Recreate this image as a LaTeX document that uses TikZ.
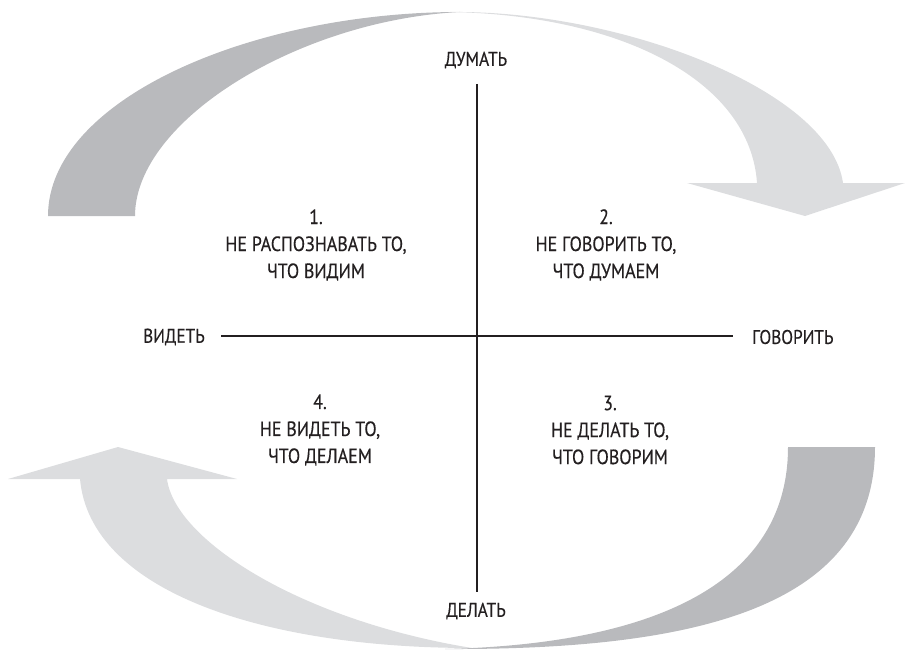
\documentclass[tikz,border=0pt]{standalone}
\usepackage{fontspec}
\setmainfont{PT Sans}[FakeStretch=0.87, FakeBold=0.35]
\definecolor{darkarc}{HTML}{B9BABD}
\definecolor{lightarc}{HTML}{DCDDDF}
\definecolor{ink}{HTML}{231F20}
\begin{document}
\begin{tikzpicture}[x=1pt,y=-1pt,
  axislabel/.style={text=ink, font=\fontsize{19.8}{21}\selectfont, inner sep=0pt},
  quadtext/.style={text=ink, align=center, font=\fontsize{20.6}{27}\selectfont, inner sep=0pt},
  axisline/.style={draw=ink, line width=2pt}]
\useasboundingbox (0,0) rectangle (905,650);
% top-left dark piece
\fill[darkarc] (48,216) .. controls (48,100) and (250,12) .. (460,12)
  .. controls (300,20) and (135,120) .. (135,216) -- cycle;
% top-right light piece with head
\fill[lightarc] (450,12) .. controls (620,10) and (830,90) .. (843,183)
  -- (905,183) -- (805,216) -- (687,183) -- (757,183)
  .. controls (750,80) and (620,15) .. (450,12) -- cycle;
% bottom-left light piece with head
\fill[lightarc] (472,648) .. controls (260,648) and (90,590) .. (80,479)
  -- (8,479) -- (118,447) -- (237,479) -- (167,479)
  .. controls (175,540) and (300,620) .. (472,648) -- cycle;
% bottom-right dark piece
\fill[darkarc] (875,447) .. controls (875,610) and (690,650) .. (445,649)
  .. controls (620,645) and (788,600) .. (788,447) -- cycle;
% axes
\node[axislabel] (think) at (476,60) {ДУМАТЬ};
\node[axislabel] (do) at (476,611) {ДЕЛАТЬ};
\node[axislabel, anchor=east] (see) at (205,337) {ВИДЕТЬ};
\node[axislabel, anchor=west] (say) at (752,337) {ГОВОРИТЬ};
\coordinate (vtop) at (477,84);
\coordinate (vbot) at (477,592);
\coordinate (hl) at (221,336);
\coordinate (hr) at (733,336);
\draw[axisline] (vtop) -- (vbot);
\draw[axisline] (hl) -- (hr);
% quadrant texts
\node[quadtext] (q1) at (316,245) {1.\\НЕ РАСПОЗНАВАТЬ ТО,\\ЧТО ВИДИМ};
\node[quadtext] (q2) at (606,245) {2.\\НЕ ГОВОРИТЬ ТО,\\ЧТО ДУМАЕМ};
\node[quadtext] (q4) at (320,430) {4.\\НЕ ВИДЕТЬ ТО,\\ЧТО ДЕЛАЕМ};
\node[quadtext] (q3) at (610,430) {3.\\НЕ ДЕЛАТЬ ТО,\\ЧТО ГОВОРИМ};
\end{tikzpicture}
\end{document}
